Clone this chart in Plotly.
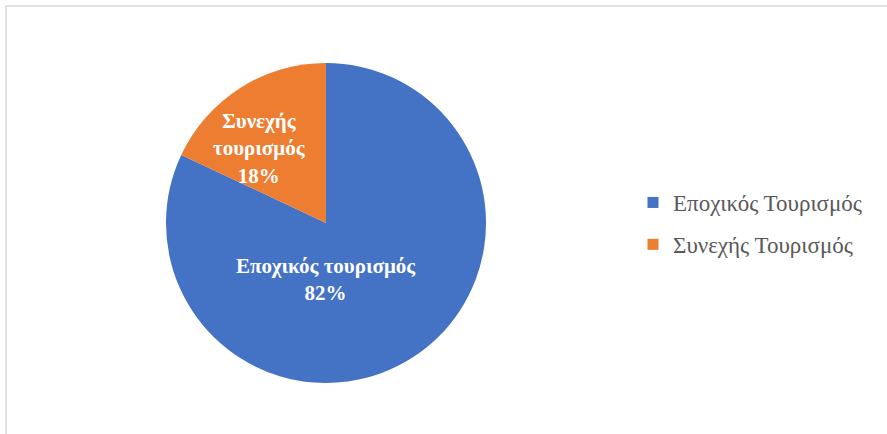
import plotly.graph_objects as go

# Tourism type shares
labels = ["Εποχικός τουρισμός", "Συνεχής<br>τουρισμός"]
legend_names = ["Εποχικός Τουρισμός", "Συνεχής Τουρισμός"]
values = [82, 18]
colors = ["#4472C4", "#ED7D31"]

W, H = 887, 434
serif = "Liberation Serif, Times New Roman, serif"

fig = go.Figure()
fig.add_trace(go.Pie(
    labels=labels,
    values=values,
    marker=dict(colors=colors, line=dict(width=0)),
    sort=False,
    direction="clockwise",
    rotation=0,
    textinfo="none",
    domain=dict(x=[166 / W, 486 / W], y=[(H - 383) / H, (H - 63) / H]),
    showlegend=False,
    hoverinfo="label+percent",
))

# Data labels placed inside each slice
total = sum(values)
label_pos = [(326, 279), (259, 148)]
for lab, v, (px, py) in zip(labels, values, label_pos):
    fig.add_annotation(
        x=px / W, y=1 - py / H, xref="paper", yref="paper",
        text=f"<b>{lab}<br>{v / total:.0%}</b>",
        showarrow=False, xanchor="center", yanchor="middle", align="center",
        font=dict(family=serif, size=21, color="white"),
    )

# Legend entries as square swatches
for name, col, grp in zip(legend_names, colors, ["a", "b"]):
    fig.add_trace(go.Scatter(
        x=[None], y=[None], mode="markers", name=name,
        marker=dict(symbol="square", size=11, color=col),
        legendgroup=grp, showlegend=True,
    ))

fig.update_layout(
    width=W, height=H,
    margin=dict(l=0, r=0, t=0, b=0),
    paper_bgcolor="white",
    plot_bgcolor="white",
    xaxis=dict(visible=False),
    yaxis=dict(visible=False),
    legend=dict(
        x=633 / W, y=(H - 181) / H, xanchor="left", yanchor="top",
        font=dict(family=serif, size=23, color="#595959"),
        tracegroupgap=9,
        itemclick=False,
    ),
    shapes=[dict(
        type="rect", xref="paper", yref="paper",
        x0=6 / W, x1=1.02, y0=-0.02, y1=1 - 6 / H,
        line=dict(color="#D9D9D9", width=1.5),
    )],
)

fig.write_html("out.html")
